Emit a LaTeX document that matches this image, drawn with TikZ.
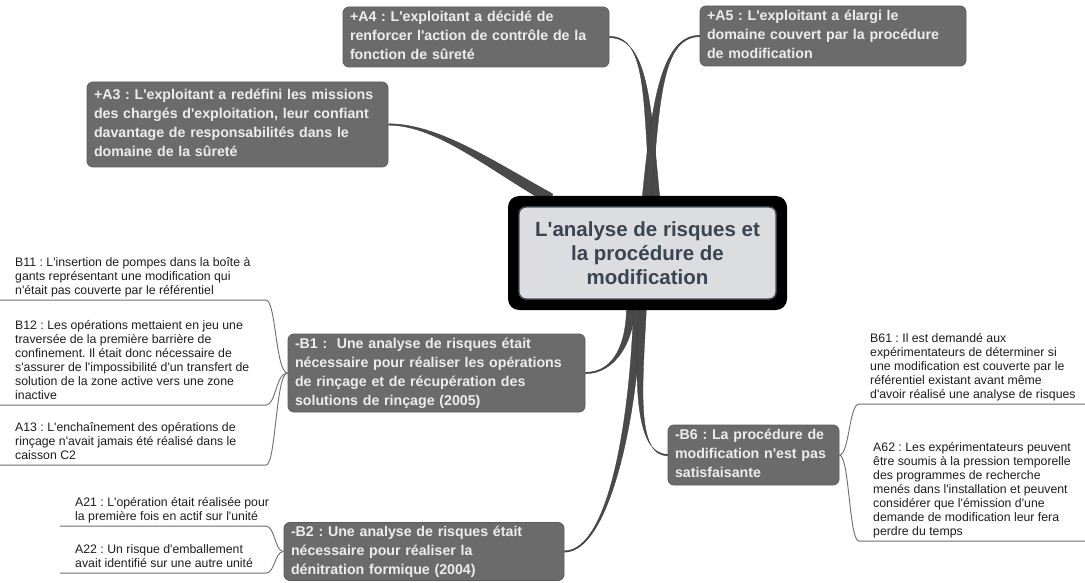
\documentclass[tikz,border=0pt]{standalone}
\usepackage{fontspec}
\setmainfont{Liberation Sans}[Ligatures=TeXOff]
\usetikzlibrary{calc}
\pgfdeclarelayer{background}
\pgfsetlayers{background,main}

\definecolor{boxgrey}{HTML}{6B6B6B}
\definecolor{boxedge}{HTML}{5A5A5A}
\definecolor{boxtext}{HTML}{EDEDED}
\definecolor{rootfill}{HTML}{DCDDE0}
\definecolor{rootedge}{HTML}{46525C}
\definecolor{roottext}{HTML}{3A4551}
\definecolor{trunkgrey}{HTML}{4A4A4A}
\definecolor{twiggrey}{HTML}{6E6E6E}
\definecolor{leaftext}{HTML}{1E1E1E}

\tikzset{
  topic/.style={rectangle, rounded corners=6pt, fill=boxgrey, draw=boxedge,
    line width=0.8pt, text=boxtext, align=left, inner xsep=7pt, inner ysep=0pt,
    font=\bfseries\fontsize{14.2}{19}\selectfont},
  leaf/.style={anchor=north west, inner sep=0pt, align=left, text=leaftext,
    font=\fontsize{12.3}{14}\selectfont},
  twig/.style={draw=twiggrey, line width=0.9pt},
  trunk/.style={fill=trunkgrey, draw=trunkgrey!70!black, line width=0.3pt},
}

% tapered branch: child anchor, control offset at child, control offset at centre,
% centre anchor, half-width at child, half-width at centre
\newcommand\taper[6]{%
  \fill[trunk] ($#1+#5$) .. controls ($#1+#2+#5$) and ($#4+#3+#6$) .. ($#4+#6$)
    -- ($#4-#6$) .. controls ($#4+#3-#6$) and ($#1+#2-#5$) .. ($#1-#5$) -- cycle;}

\begin{document}
\frenchspacing
\hyphenpenalty=10000
\exhyphenpenalty=10000
\begin{tikzpicture}[x=1pt,y=-1pt]
\begin{pgfonlayer}{background}
  \fill[white] (0,0) rectangle (1085,583);
\end{pgfonlayer}
\useasboundingbox (0,0) rectangle (1085,583);

% central topic
\node[fill=black, rounded corners=11pt, minimum width=279pt, minimum height=114pt,
      inner sep=0pt] (root) at (647.5,253) {};
\node[fill=rootfill, draw=rootedge, line width=1.4pt, rounded corners=7pt,
      minimum width=257pt, minimum height=92pt, inner sep=0pt, align=center,
      text=roottext, font=\bfseries\fontsize{20.5}{24}\selectfont]
      (rootlabel) at (root.center)
      {L'analyse de risques et\\la procédure de\\modification};

% main topics
\node[topic, text width=252pt, minimum height=60pt] (a4) at (476,37)
  {\strut+A4 : L'exploitant a décidé de\\renforcer l'action de contrôle de la\\fonction de sûreté\strut};
\node[topic, text width=252pt, minimum height=60pt] (a5) at (833,36)
  {\strut+A5 : L'exploitant a élargi le\\domaine couvert par la procédure\\de modification\strut};
\node[topic, text width=287pt, minimum height=85pt] (a3) at (237.5,124.5)
  {\strut+A3 : L'exploitant a redéfini les missions\\des chargés d'exploitation, leur confiant\\davantage de responsabilités dans le\\domaine de la sûreté\strut};
\node[topic, text width=283pt, minimum height=78pt] (b1) at (436.5,373)
  {\strut-B1 :\ \ Une analyse de risques était\\nécessaire pour réaliser les opérations\\de rinçage et de récupération des\\solutions de rinçage (2005)\strut};
\node[topic, text width=266pt, minimum height=58pt] (b2) at (424,551.5)
  {\strut-B2 : Une analyse de risques était\\nécessaire pour réaliser la\\dénitration formique (2004)\strut};
\node[topic, text width=157pt, minimum height=60pt] (b6) at (753.5,455)
  {\strut-B6 : La procédure de\\modification n'est pas\\satisfaisante\strut};

% tapered branches from the central topic
\begin{pgfonlayer}{background}
  \taper{(a3.east)}{(50,0)}{(-60,-33)}{(root.north)+(-95,4)}{(0,0.7)}{(0,6)}
  \taper{(a4.east)}{(40,0)}{(-9,-90)}{(root.north)+(8,4)}{(0,0.7)}{(4.5,0)}
  \taper{(a5.west)}{(-40,0)}{(9,-90)}{(root.north)+(-1,4)}{(0,0.7)}{(4.5,0)}
  \taper{(b1.east)}{(30,0)}{(0,35)}{(root.south)+(-17,-4)}{(0,0.7)}{(4,0)}
  \taper{(b2.east)}{(45,0)}{(-3,110)}{(root.south)+(-10,-4)}{(0,0.7)}{(4,0)}
  \taper{(b6.west)}{(-32,0)}{(-4,80)}{(root.south)+(-5,-4)}{(0,0.7)}{(4,0)}
\end{pgfonlayer}

% columns where the leaf rules turn into braces
\coordinate (lcol) at (266,0);
\coordinate (rcol) at (859,0);
\coordinate (redge) at (1085,0);

% leaves of B1
\node[leaf] (b11) at (15,256.2)
  {\strut B11 : L'insertion de pompes dans la boîte à\\gants représentant une modification qui\\n'était pas couverte par le référentiel\strut};
\node[leaf] (b12) at (15,319.2)
  {\strut B12 : Les opérations mettaient en jeu une\\traversée de la première barrière de\\confinement. Il était donc nécessaire de\\s'assurer de l'impossibilité d'un transfert de\\solution de la zone active vers une zone\\inactive\strut};
\node[leaf] (a13) at (15,421.2)
  {\strut A13 : L'enchaînement des opérations de\\rinçage n'avait jamais été réalisé dans le\\caisson C2\strut};
\foreach \lf in {b11,b12,a13}
  \draw[twig] ($(\lf.south west)+(-15,1.5)$) -- ($(\lf.south west -| lcol)+(0,1.5)$)
    .. controls +(10,0) and +(-12,0) .. (b1.west);

% leaves of B2
\node[leaf] (a21) at (75,496.2)
  {\strut A21 : L'opération était réalisée pour\\la première fois en actif sur l'unité\strut};
\node[leaf] (a22) at (75,543.2)
  {\strut A22 : Un risque d'emballement\\avait identifié sur une autre unité\strut};
\foreach \lf in {a21,a22}
  \draw[twig] ($(\lf.south west)+(-15,1.5)$) -- ($(\lf.south west -| lcol)+(0,1.5)$)
    .. controls +(9,0) and +(-9,0) .. (b2.west);

% leaves of B6
\node[leaf] (b61) at (870,332.2)
  {\strut B61 : Il est demandé aux\\expérimentateurs de déterminer si\\une modification est couverte par le\\référentiel existant avant même\\d'avoir réalisé une analyse de risques\strut};
\node[leaf] (a62) at (873,441.2)
  {\strut A62 : Les expérimentateurs peuvent\\être soumis à la pression temporelle\\des programmes de recherche\\menés dans l'installation et peuvent\\considérer que l'émission d'une\\demande de modification leur fera\\perdre du temps\strut};
\foreach \lf in {b61,a62}
  \draw[twig] (b6.east) .. controls +(10,0) and +(-10,0)
    .. ($(\lf.south west -| rcol)+(0,1.5)$) -- ($(\lf.south west -| redge)+(0,1.5)$);
\end{tikzpicture}
\end{document}
